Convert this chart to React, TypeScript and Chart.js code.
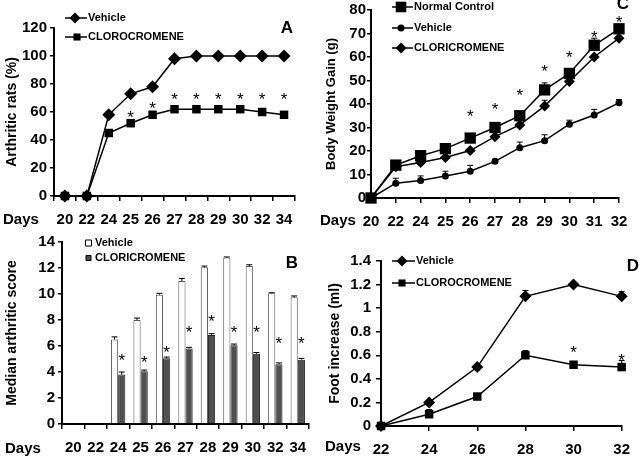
import React, { useEffect, useRef } from 'react';
import { Chart, registerables } from 'chart.js';
Chart.register(...registerables);

const FONT = '"Liberation Sans", Arial, Helvetica, sans-serif';

// ---------- Panel A : Arthritic rats (%) ----------
const daysA = ['20', '22', '24', '25', '26', '27', '28', '29', '30', '32', '34'];
const vehicleA = [0, 0, 58, 73, 78, 98, 100, 100, 100, 100, 100];
const clorocromeneA = [0, 0, 45, 52, 58, 62, 62, 62, 62, 60, 58];
const starsA = [null, null, null, 58, 65, 71, 71, 71, 71, 71, 71];

// ---------- Panel B : Median arthritic score ----------
const daysB = ['20', '22', '24', '25', '26', '27', '28', '29', '30', '32', '34'];
const vehicleB = [null, null, 6.5, 8.0, 9.95, 11.0, 12.05, 12.8, 12.15, 10.05, 9.75];
const vehicleErrB = [null, null, 0.2, 0.15, 0.1, 0.2, 0.1, 0.05, 0.1, 0.05, 0.1];
const cloricromeneB = [null, null, 3.8, 4.05, 5.05, 5.8, 6.85, 6.05, 5.4, 4.6, 4.95];
const cloricromeneErrB = [null, null, 0.2, 0.1, 0.1, 0.1, 0.1, 0.1, 0.1, 0.1, 0.1];
const starsB = [null, null, 5.1, 5.0, 5.7, 7.3, 8.1, 7.3, 7.3, 6.4, 6.4];

// ---------- Panel C : Body weight gain (g) ----------
const daysC = ['20', '22', '24', '25', '26', '27', '28', '29', '30', '31', '32'];
const normalC = [0, 14, 18, 21, 25.5, 30, 35, 46, 53, 65, 72];
const normalErrC = [null, null, null, null, null, null, null, 3, null, 3, null];
const vehicleC = [0, 6.3, 7.4, 9.4, 11.4, 15.6, 21.4, 24.4, 31.4, 35.3, 40.5];
const vehicleErrC = [null, 2.1, 2, 2, 2.5, null, 2.4, 2.5, 1.7, 2.4, 1.4];
const cloricromeneC = [0, 13.3, 15.1, 17.2, 20.2, 26.1, 31.1, 39.1, 49.6, 60, 68];
const cloricromeneErrC = [null, null, null, null, null, null, null, 2.5, null, null, null];
const starsC = [null, null, null, null, 36, 39, 45, 55, 61, 69.5, 76];

// ---------- Panel D : Foot increase (ml) ----------
const daysD = ['22', '24', '26', '28', '30', '32'];
const vehicleD = [0, 0.2, 0.5, 1.1, 1.2, 1.1];
const vehicleErrD = [null, null, null, 0.05, null, 0.04];
const clorocromeneD = [0, 0.1, 0.25, 0.6, 0.52, 0.5];
const clorocromeneErrD = [null, 0.04, null, 0.04, null, 0.055];
const starsD = [null, null, null, null, 0.65, 0.58];

type LegendItem = {
  text: string; y: number; x1?: number; x2?: number; mx: number; tx: number;
  style: 'rectRot' | 'rect' | 'circle' | 'boxWhite' | 'boxDark'; r: number;
};
type Decor = {
  days: { x: number; y: number };
  letter: { text: string; x: number; y: number };
  legend: LegendItem[];
  stars: (number | null)[];
  starDs?: number;
  errors: { ds: number; err: (number | null)[] }[];
};

function drawMarker(ctx: CanvasRenderingContext2D, style: string, x: number, y: number, r: number) {
  ctx.beginPath();
  if (style === 'rectRot') {
    ctx.moveTo(x, y - r); ctx.lineTo(x + r, y); ctx.lineTo(x, y + r); ctx.lineTo(x - r, y); ctx.closePath();
    ctx.fillStyle = '#000'; ctx.fill();
  } else if (style === 'rect') {
    const s = r * Math.SQRT1_2;
    ctx.rect(x - s, y - s, 2 * s, 2 * s);
    ctx.fillStyle = '#000'; ctx.fill();
  } else if (style === 'circle') {
    ctx.arc(x, y, r, 0, Math.PI * 2);
    ctx.fillStyle = '#000'; ctx.fill();
  } else if (style === 'boxWhite' || style === 'boxDark') {
    ctx.rect(x - r, y - r, 2 * r, 2 * r);
    ctx.fillStyle = style === 'boxWhite' ? '#fff' : '#4a4a4a';
    ctx.fill();
    ctx.lineWidth = 1; ctx.strokeStyle = '#000'; ctx.stroke();
  }
}

function decorPlugin(d: Decor) {
  return {
    id: 'decor',
    afterDatasetsDraw(chart: any) {
      const ctx: CanvasRenderingContext2D = chart.ctx;
      const xs = chart.scales.x, ys = chart.scales.y;
      ctx.save();
      ctx.strokeStyle = '#000';
      ctx.lineWidth = 1;
      for (const e of d.errors) {
        const meta = chart.getDatasetMeta(e.ds);
        const vals = chart.data.datasets[e.ds].data;
        e.err.forEach((er, i) => {
          if (er == null || vals[i] == null) return;
          const x = meta.data[i].x;
          const y0 = ys.getPixelForValue(vals[i]);
          const y1 = ys.getPixelForValue(vals[i] + er);
          ctx.beginPath();
          ctx.moveTo(x, y0); ctx.lineTo(x, y1);
          ctx.moveTo(x - 3, y1); ctx.lineTo(x + 3, y1);
          ctx.stroke();
        });
      }
      ctx.fillStyle = '#000';
      ctx.font = `17px ${FONT}`;
      ctx.textAlign = 'center';
      ctx.textBaseline = 'middle';
      d.stars.forEach((s, i) => {
        if (s == null) return;
        const x = d.starDs != null ? chart.getDatasetMeta(d.starDs).data[i].x : xs.getPixelForValue(i);
        const y = ys.getPixelForValue(s);
        ctx.fillText('*', x, y + 17 * 0.23);
      });
      ctx.restore();
    },
    afterDraw(chart: any) {
      const ctx: CanvasRenderingContext2D = chart.ctx;
      ctx.save();
      ctx.fillStyle = '#000';
      ctx.textBaseline = 'middle';
      ctx.textAlign = 'left';
      ctx.font = `bold 15px ${FONT}`;
      ctx.fillText('Days', d.days.x, d.days.y);
      ctx.textAlign = 'center';
      ctx.font = `bold 17px ${FONT}`;
      ctx.fillText(d.letter.text, d.letter.x, d.letter.y);
      for (const it of d.legend) {
        if (it.x1 != null && it.x2 != null) {
          ctx.strokeStyle = '#000'; ctx.lineWidth = 1.5;
          ctx.beginPath(); ctx.moveTo(it.x1, it.y); ctx.lineTo(it.x2, it.y); ctx.stroke();
        }
        drawMarker(ctx, it.style, it.mx, it.y, it.r);
        ctx.fillStyle = '#000';
        ctx.textAlign = 'left';
        ctx.font = `bold 11px ${FONT}`;
        ctx.fillText(it.text, it.tx, it.y);
      }
      ctx.restore();
    },
  };
}

function xAxis(offset: boolean, height: number) {
  return {
    type: 'category',
    offset,
    grid: { offset, drawOnChartArea: false, drawTicks: true, tickLength: 5, color: '#000', lineWidth: 1.5 },
    border: { display: true, color: '#000', width: 2 },
    ticks: { color: '#000', font: { size: 15, weight: 'bold', family: FONT }, padding: 10, autoSkip: false, maxRotation: 0 },
    afterFit: (s: any) => { s.height = height; },
  };
}

function yAxis(max: number, step: number, width: number, title: string, titleSize: number, titlePad: number, tickLen: number, tickPad: number) {
  return {
    type: 'linear',
    min: 0, max,
    grid: { drawOnChartArea: false, drawTicks: true, tickLength: tickLen, color: '#000', lineWidth: 1.5 },
    border: { display: true, color: '#000', width: 2 },
    ticks: {
      stepSize: step, color: '#000', padding: tickPad,
      font: { size: 15, weight: 'bold', family: FONT },
      callback: (v: number) => String(Math.round(v * 10) / 10),
    },
    title: { display: true, text: title, color: '#000', font: { size: titleSize, weight: 'bold', family: FONT }, padding: { top: titlePad, bottom: 0 } },
    afterFit: (s: any) => { s.width = width; },
  };
}

function lineDs(label: string, data: number[], style: string, r: number) {
  return {
    label, data, borderColor: '#000', borderWidth: 1.5, tension: 0,
    pointStyle: style, pointRadius: r, pointHoverRadius: r,
    pointBackgroundColor: '#000', pointBorderColor: '#000', pointBorderWidth: 0,
    clip: false,
  };
}

const baseOpts = {
  responsive: false,
  animation: false,
  devicePixelRatio: 1,
  events: [],
};

function configA(): any {
  return {
    type: 'line',
    data: {
      labels: daysA,
      datasets: [lineDs('Vehicle', vehicleA, 'rectRot', 6.5), lineDs('CLOROCROMENE', clorocromeneA, 'rect', 6)],
    },
    options: {
      ...baseOpts,
      layout: { padding: { left: 0, top: 28, right: 25, bottom: 0 } },
      plugins: { legend: { display: false }, tooltip: { enabled: false } },
      scales: { x: xAxis(true, 32), y: yAxis(120, 20, 54, 'Arthritic rats (%)', 14, 4, 4, 3) },
    },
    plugins: [decorPlugin({
      days: { x: 3, y: 220 },
      letter: { text: 'A', x: 287, y: 28 },
      legend: [
        { text: 'Vehicle', y: 18, x1: 65, x2: 87, mx: 75, tx: 88, style: 'rectRot', r: 5.5 },
        { text: 'CLOROCROMENE', y: 37, x1: 65, x2: 87, mx: 77, tx: 88, style: 'rect', r: 5 },
      ],
      stars: starsA,
      errors: [],
    })],
  };
}

function configB(): any {
  return {
    type: 'bar',
    data: {
      labels: daysB,
      datasets: [
        { label: 'Vehicle', data: vehicleB, backgroundColor: '#fff', borderColor: '#555', borderWidth: 1, categoryPercentage: 0.64, barPercentage: 1 },
        { label: 'CLORICROMENE', data: cloricromeneB, backgroundColor: '#505050', borderColor: '#222', borderWidth: 1, categoryPercentage: 0.64, barPercentage: 1 },
      ],
    },
    options: {
      ...baseOpts,
      layout: { padding: { left: 0, top: 14, right: 11, bottom: 0 } },
      plugins: { legend: { display: false }, tooltip: { enabled: false } },
      scales: { x: xAxis(true, 32), y: yAxis(14, 2, 62, 'Median arthritic score', 14, 4, 4, 3) },
    },
    plugins: [decorPlugin({
      days: { x: 5, y: 221 },
      letter: { text: 'B', x: 292, y: 35 },
      legend: [
        { text: 'Vehicle', y: 15, mx: 88.5, tx: 95, style: 'boxWhite', r: 3 },
        { text: 'CLORICROMENE', y: 30, mx: 88.5, tx: 95, style: 'boxDark', r: 2.5 },
      ],
      stars: starsB,
      starDs: 1,
      errors: [{ ds: 0, err: vehicleErrB }, { ds: 1, err: cloricromeneErrB }],
    })],
  };
}

function configC(): any {
  return {
    type: 'line',
    data: {
      labels: daysC,
      datasets: [
        lineDs('Normal Control', normalC, 'rect', 8),
        lineDs('Vehicle', vehicleC, 'circle', 3.5),
        lineDs('CLORICROMENE', cloricromeneC, 'rectRot', 5.5),
      ],
    },
    options: {
      ...baseOpts,
      layout: { padding: { left: 0, top: 7, right: 21, bottom: 0 } },
      plugins: { legend: { display: false }, tooltip: { enabled: false } },
      scales: { x: xAxis(false, 30), y: yAxis(80, 10, 51, 'Body Weight Gain (g)', 13, 4, 4, 1) },
    },
    plugins: [decorPlugin({
      days: { x: 0, y: 221 },
      letter: { text: 'C', x: 303, y: 4 },
      legend: [
        { text: 'Normal Control', y: 7, x1: 72, x2: 93, mx: 81, tx: 94, style: 'rect', r: 7.5 },
        { text: 'Vehicle', y: 28, x1: 72, x2: 93, mx: 81, tx: 94, style: 'circle', r: 3.5 },
        { text: 'CLORICROMENE', y: 48, x1: 72, x2: 93, mx: 81, tx: 94, style: 'rectRot', r: 5.5 },
      ],
      stars: starsC,
      errors: [{ ds: 0, err: normalErrC }, { ds: 1, err: vehicleErrC }, { ds: 2, err: cloricromeneErrC }],
    })],
  };
}

function configD(): any {
  return {
    type: 'line',
    data: {
      labels: daysD,
      datasets: [lineDs('Vehicle', vehicleD, 'rectRot', 6), lineDs('CLOROCROMENE', clorocromeneD, 'rect', 6)],
    },
    options: {
      ...baseOpts,
      layout: { padding: { left: 0, top: 33, right: 9, bottom: 0 } },
      plugins: { legend: { display: false }, tooltip: { enabled: false } },
      scales: { x: xAxis(false, 30), y: yAxis(1.4, 0.2, 61, 'Foot increase (ml)', 14, 7, 5, 5) },
    },
    plugins: [decorPlugin({
      days: { x: 5, y: 219 },
      letter: { text: 'D', x: 313, y: 38 },
      legend: [
        { text: 'Vehicle', y: 33, x1: 72, x2: 95, mx: 82, tx: 96, style: 'rectRot', r: 5.5 },
        { text: 'CLOROCROMENE', y: 55, x1: 72, x2: 95, mx: 82, tx: 96, style: 'rect', r: 5 },
      ],
      stars: starsD,
      errors: [{ ds: 0, err: vehicleErrD }, { ds: 1, err: clorocromeneErrD }],
    })],
  };
}

function Panel({ left, top, make }: { left: number; top: number; make: () => any }) {
  const ref = useRef<HTMLCanvasElement | null>(null);
  useEffect(() => {
    if (!ref.current) return;
    const chart = new Chart(ref.current, make());
    return () => chart.destroy();
  }, []);
  return (
    <canvas
      ref={ref}
      width={320}
      height={228}
      style={{ position: 'absolute', left, top, width: 320, height: 228 }}
    />
  );
}

export default function App() {
  return (
    <div style={{ position: 'fixed', left: 0, top: 0, width: 640, height: 456, background: '#fff', overflow: 'hidden' }}>
      <Panel left={0} top={0} make={configA} />
      <Panel left={320} top={0} make={configC} />
      <Panel left={0} top={228} make={configB} />
      <Panel left={320} top={228} make={configD} />
    </div>
  );
}
